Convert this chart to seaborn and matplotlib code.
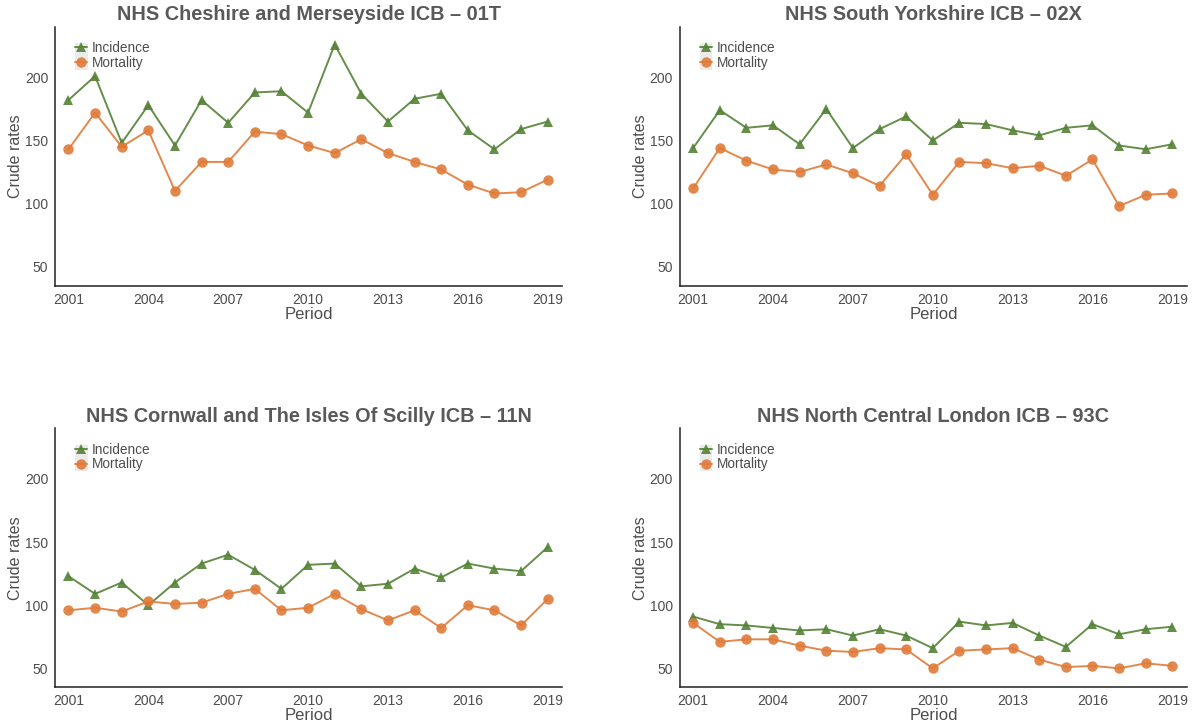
import pandas as pd
import numpy as np
import matplotlib.pyplot as plt
import seaborn as sns
from matplotlib.patches import Rectangle

sns.set_theme(style="white")
plt.rcParams["font.family"] = ["Liberation Sans", "DejaVu Sans"]

# ---------------------------------------------------------------
# Data (crude rates)
# ---------------------------------------------------------------
years = list(range(2001, 2020))

titles = [
    "NHS Cheshire and Merseyside ICB \u2013 01T",
    "NHS South Yorkshire ICB \u2013 02X",
    "NHS Cornwall and The Isles Of Scilly ICB \u2013 11N",
    "NHS North Central London ICB \u2013 93C",
]

cheshire_inc = [182, 201, 148, 178, 146, 182, 164, 188, 189, 172, 226, 187, 165, 183, 187, 158, 143, 159, 165]
cheshire_mort = [143, 172, 145, 158, 110, 133, 133, 157, 155, 146, 140, 151, 140, 133, 127, 115, 108, 109, 119]

yorkshire_inc = [144, 174, 160, 162, 147, 175, 144, 159, 169, 150, 164, 163, 158, 154, 160, 162, 146, 143, 147]
yorkshire_mort = [112, 144, 134, 127, 125, 131, 124, 114, 139, 107, 133, 132, 128, 130, 122, 135, 98, 107, 108]

cornwall_inc = [123, 109, 118, 100, 118, 133, 140, 128, 113, 132, 133, 115, 117, 129, 122, 133, 129, 127, 146]
cornwall_mort = [96, 98, 95, 103, 101, 102, 109, 113, 96, 98, 109, 97, 88, 96, 82, 100, 96, 84, 105]

london_inc = [91, 85, 84, 82, 80, 81, 76, 81, 76, 66, 87, 84, 86, 76, 67, 85, 77, 81, 83]
london_mort = [86, 71, 73, 73, 68, 64, 63, 66, 65, 50, 64, 65, 66, 57, 51, 52, 50, 54, 52]

series = [
    (cheshire_inc, cheshire_mort),
    (yorkshire_inc, yorkshire_mort),
    (cornwall_inc, cornwall_mort),
    (london_inc, london_mort),
]

palette = {"Incidence": "#548235", "Mortality": "#E07B39"}
markers = {"Incidence": "^", "Mortality": "o"}
text_col = "#4D4D4D"

fig = plt.figure(figsize=(11.99, 7.25), dpi=100)
positions = [
    [0.046, 0.606, 0.423, 0.357],
    [0.567, 0.606, 0.423, 0.357],
    [0.046, 0.052, 0.423, 0.357],
    [0.567, 0.052, 0.423, 0.357],
]

for pos, title, (inc, mort) in zip(positions, titles, series):
    ax = fig.add_axes(pos)
    df = pd.DataFrame({
        "Period": years * 2,
        "rate": inc + mort,
        "measure": ["Incidence"] * len(years) + ["Mortality"] * len(years),
    })
    # grey legend key background, ggplot style
    ax.add_patch(Rectangle((0.040, 0.835), 0.024, 0.102, transform=ax.transAxes,
                           facecolor="#EBEBEB", edgecolor="none", zorder=1))
    sns.lineplot(data=df, x="Period", y="rate", hue="measure", style="measure",
                 palette=palette, markers=markers, dashes=False, ax=ax,
                 linewidth=1.4, markersize=7.5, markeredgewidth=0, alpha=0.9)
    ax.set_xlim(2000.5, 2019.55)
    ax.set_ylim(35, 240)
    ax.set_xticks(years)
    ax.set_xticklabels([str(y) if (y - 2001) % 3 == 0 else "" for y in years])
    ax.set_yticks([50, 100, 150, 200])
    ax.tick_params(axis="both", direction="out", length=3, width=0.8,
                   colors="#333333", labelcolor=text_col, labelsize=10, pad=2)
    for side in ["top", "right"]:
        ax.spines[side].set_visible(False)
    for side in ["left", "bottom"]:
        ax.spines[side].set_color("#222222")
        ax.spines[side].set_linewidth(1.1)
    ax.set_xlabel("Period", fontsize=12, color=text_col, labelpad=0)
    ax.set_ylabel("Crude rates", fontsize=11.5, color=text_col, labelpad=1)
    ax.set_title(title, fontsize=14.3, fontweight="bold", color="#595959", pad=5)
    leg = ax.legend(loc="upper left", bbox_to_anchor=(0.02, 0.982), frameon=False,
                    fontsize=9.8, handlelength=0.9, handletextpad=0.35,
                    labelspacing=0.05, borderpad=0.2)
    for t in leg.get_texts():
        t.set_color(text_col)

plt.savefig("out.png", dpi=100)
